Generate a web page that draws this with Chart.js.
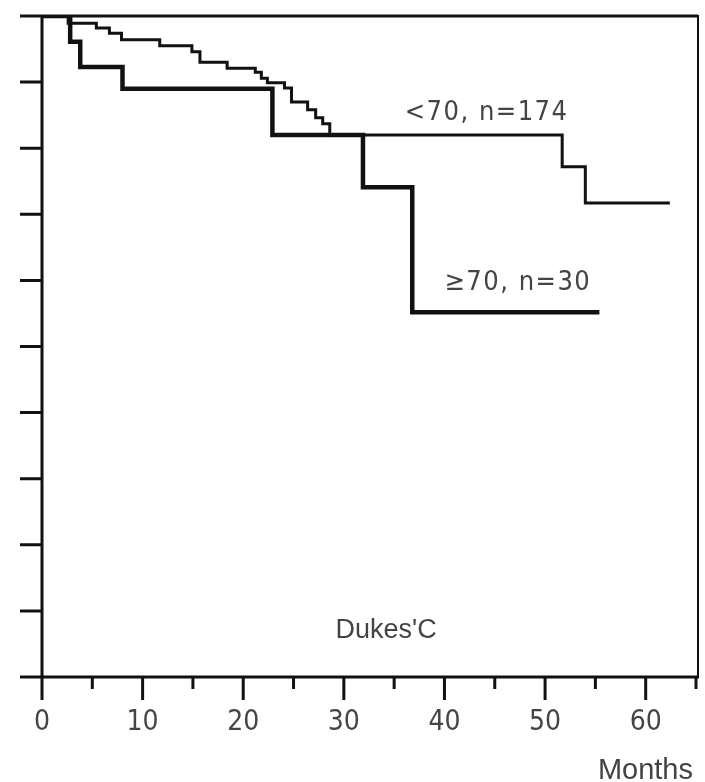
<!DOCTYPE html>
<html>
<head>
<meta charset="utf-8">
<title>Dukes' C survival by age</title>
<script src="https://cdn.jsdelivr.net/npm/chart.js@4.4.0/dist/chart.umd.min.js"></script>
<style>
    body { margin: 0; background: #fff; }
    #wrap { width: 705px; height: 782px; position: relative; }
</style>
</head>
<body>
<div id="wrap"><canvas id="survivalChart"></canvas></div>
<script>
// Survival data (months, cumulative survival)
const youngMonths = [0, 2.6, 5.4, 6.7, 7.9, 11.7, 14.9, 15.7, 18.4, 21.2, 21.8, 22.4, 24.1, 24.8, 26.4, 27.2, 27.9, 28.6, 51.7, 54.0, 62.4];
const youngSurvival = [1.0, 0.989, 0.982, 0.974, 0.964, 0.955, 0.946, 0.930, 0.921, 0.915, 0.906, 0.899, 0.891, 0.870, 0.858, 0.846, 0.837, 0.820, 0.772, 0.717, 0.717];

const oldMonths = [0, 2.8, 3.8, 8.0, 22.9, 31.9, 36.8, 55.4];
const oldSurvival = [1.0, 0.961, 0.923, 0.890, 0.820, 0.741, 0.552, 0.552];

// Axis ticks
const xTicks = [0, 5, 10, 15, 20, 25, 30, 35, 40, 45, 50, 55, 60, 65];
const xTickLabels = ['0', '', '10', '', '20', '', '30', '', '40', '', '50', '', '60', ''];
const yTicks = [0.1, 0.2, 0.3, 0.4, 0.5, 0.6, 0.7, 0.8, 0.9];

// Helper to zip x/y arrays into points
function toPoints(xs, ys) {
    return xs.map((x, i) => ({ x: x, y: ys[i] }));
}

const ink = '#111';
const textColor = '#444';
const narrowFont = '"Liberation Sans Narrow", "DejaVu Sans Condensed", sans-serif';

// Draws the frame, tick marks and the text notes on the plot
const framePlugin = {
    id: 'frame',
    afterDatasetsDraw(chart) {
        const ctx = chart.ctx;
        const xs = chart.scales.x;
        const ys = chart.scales.y;
        const area = chart.chartArea;
        const left = area.left, right = xs.getPixelForValue(65) + 2;
        const top = area.top, bottom = area.bottom;

        ctx.save();
        ctx.strokeStyle = ink;
        ctx.lineCap = 'butt';

        // top border + bottom axis (both run out to the left)
        ctx.lineWidth = 3;
        ctx.beginPath();
        ctx.moveTo(20, top); ctx.lineTo(right, top);
        ctx.moveTo(20, bottom); ctx.lineTo(right + 1, bottom);
        // y axis
        ctx.moveTo(left, top); ctx.lineTo(left, bottom + 23);
        ctx.stroke();

        // right border
        ctx.lineWidth = 2;
        ctx.beginPath();
        ctx.moveTo(right, top - 1); ctx.lineTo(right, bottom);
        ctx.stroke();

        // y ticks, outside to the left
        ctx.lineWidth = 3;
        ctx.beginPath();
        yTicks.forEach(function(v) {
            const py = ys.getPixelForValue(v);
            ctx.moveTo(20, py); ctx.lineTo(left, py);
        });
        // x ticks, long at each 10, short at each 5
        xTicks.forEach(function(v) {
            if (v === 0) return;
            const px = xs.getPixelForValue(v);
            const len = v % 10 === 0 ? 23 : 12;
            ctx.moveTo(px, bottom); ctx.lineTo(px, bottom + len);
        });
        ctx.stroke();

        // curve notes
        ctx.fillStyle = textColor;
        ctx.textBaseline = 'middle';
        ctx.textAlign = 'left';
        ctx.font = '27px ' + narrowFont;
        ctx.letterSpacing = '1.5px';
        ctx.fillText('<70, n=174', xs.getPixelForValue(36.05), ys.getPixelForValue(0.854));
        ctx.fillText('\u226570, n=30', xs.getPixelForValue(40.0), ys.getPixelForValue(0.596));

        ctx.letterSpacing = '0px';
        ctx.textAlign = 'center';
        ctx.font = '27px "Liberation Sans"';
        ctx.fillText("Dukes'C", xs.getPixelForValue(34.2), ys.getPixelForValue(0.071));

        // axis title
        ctx.textAlign = 'right';
        ctx.font = '29px "Liberation Sans"';
        ctx.fillText('Months', 693, 771);
        ctx.restore();
    }
};

const survivalData = {
    datasets: [{
        label: '<70, n=174',
        data: toPoints(youngMonths, youngSurvival),
        borderColor: ink,
        borderWidth: 3,
        stepped: 'before',
        pointRadius: 0,
        fill: false
    }, {
        label: '\u226570, n=30',
        data: toPoints(oldMonths, oldSurvival),
        borderColor: ink,
        borderWidth: 4.5,
        stepped: 'before',
        pointRadius: 0,
        fill: false
    }]
};

const survivalConfig = {
    type: 'line',
    data: survivalData,
    plugins: [framePlugin],
    options: {
        responsive: true,
        maintainAspectRatio: false,
        animation: false,
        layout: {
            padding: { top: 16, right: 9, left: 0, bottom: 0 }
        },
        plugins: {
            legend: { display: false },
            tooltip: { enabled: false }
        },
        scales: {
            x: {
                type: 'linear',
                min: 0,
                max: 65,
                grid: { display: false, drawTicks: false },
                border: { display: false },
                afterBuildTicks: function(scale) {
                    scale.ticks = xTicks.map(v => ({ value: v }));
                },
                afterFit: function(scale) {
                    scale.height = 105;
                    scale.paddingLeft = 0;
                    scale.paddingRight = 0;
                },
                ticks: {
                    autoSkip: false,
                    maxRotation: 0,
                    padding: 29,
                    color: textColor,
                    font: { family: narrowFont, size: 28 },
                    callback: function(value) {
                        return xTickLabels[xTicks.indexOf(value)];
                    }
                }
            },
            y: {
                type: 'linear',
                min: 0,
                max: 1,
                grid: { display: false, drawTicks: false },
                border: { display: false },
                ticks: { display: false },
                afterFit: function(scale) {
                    scale.width = 42;
                }
            }
        }
    }
};

const survivalChart = new Chart(
    document.getElementById('survivalChart'),
    survivalConfig
);
</script>
</body>
</html>
